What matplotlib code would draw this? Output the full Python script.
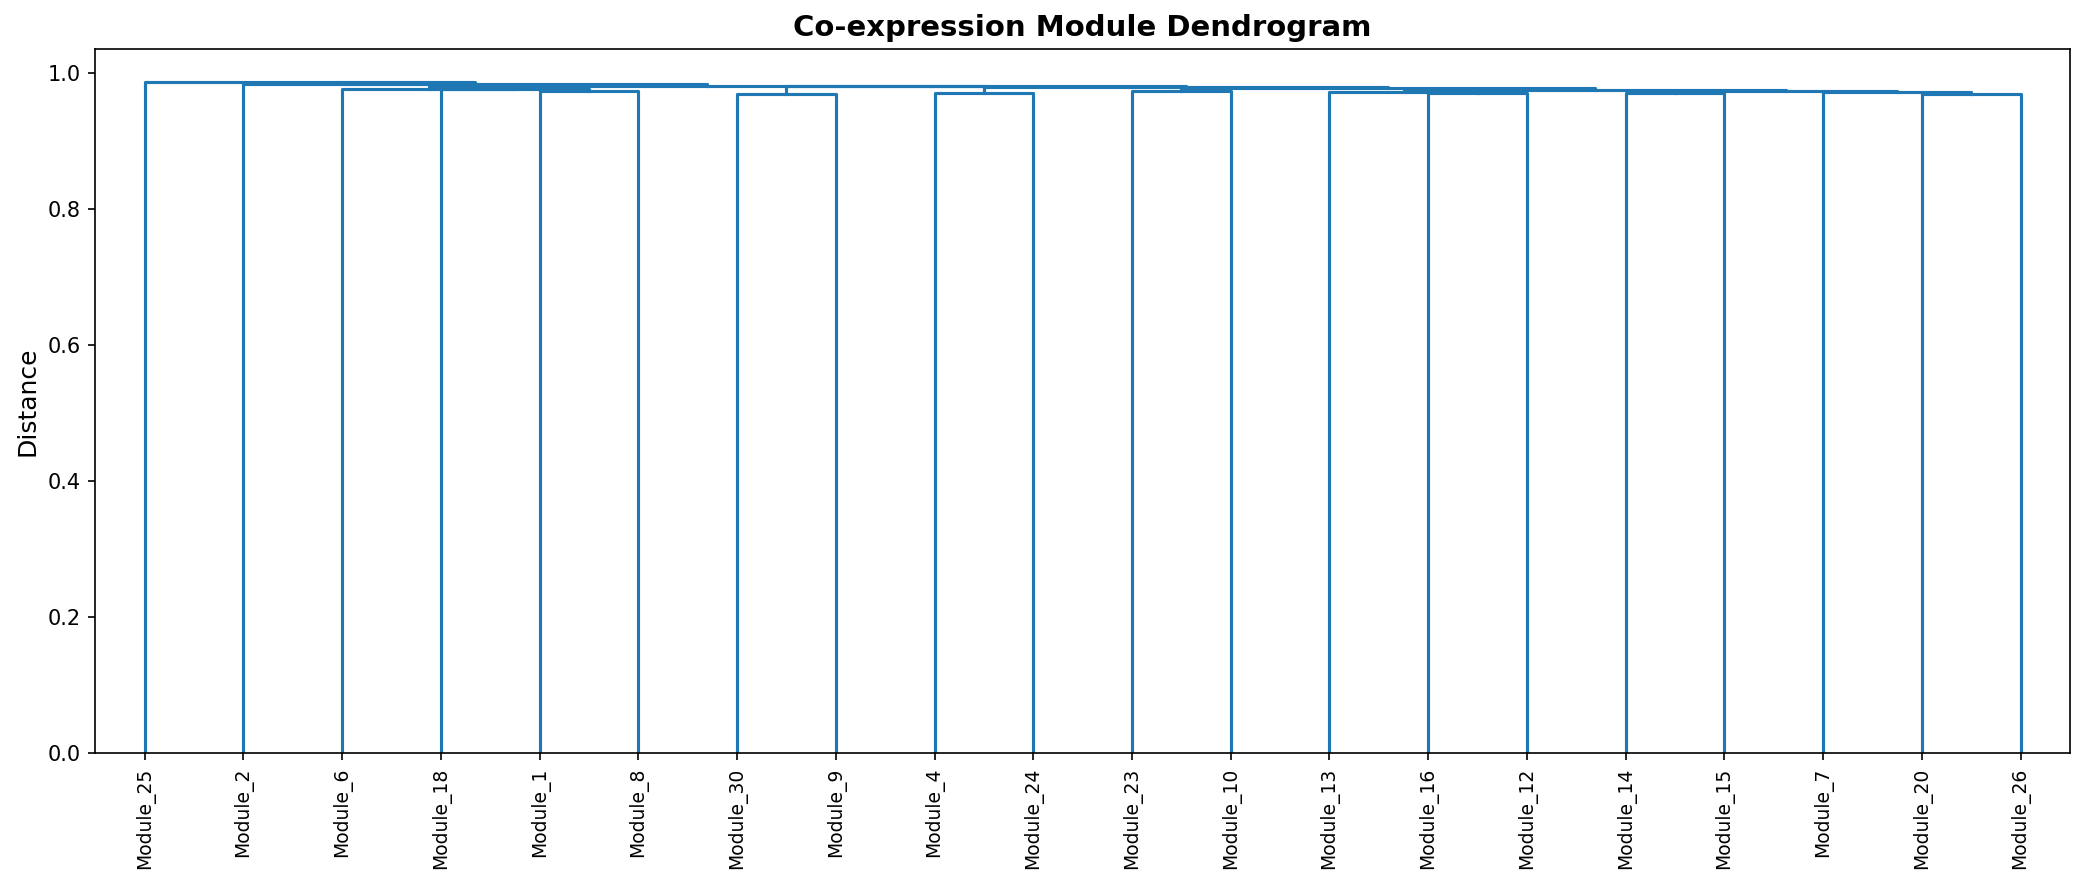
import numpy as np
import matplotlib.pyplot as plt

# leaf order as it appears on the x axis
leaf_labels = ["Module_25", "Module_2", "Module_6", "Module_18", "Module_1", "Module_8",
               "Module_30", "Module_9", "Module_4", "Module_24", "Module_23", "Module_10",
               "Module_13", "Module_16", "Module_12", "Module_14", "Module_15", "Module_7",
               "Module_20", "Module_26"]

# merges: left child, right child, distance (ints refer to earlier merges)
merge_left = ["Module_30", "Module_20", "Module_16", "Module_4", "Module_14", "Module_13",
              "Module_7", "Module_1", "Module_23", 4, 5, "Module_18", "Module_6", 8, 3,
              0, 12, "Module_2", "Module_25"]
merge_right = ["Module_9", "Module_26", "Module_12", "Module_24", "Module_15", 2,
               1, "Module_8", "Module_10", 6, 9, 7, 11, 10, 13,
               14, 15, 16, 17]
merge_height = [0.969, 0.9685, 0.9695, 0.9705, 0.970, 0.971,
                0.9715, 0.9737, 0.9735, 0.9735, 0.975, 0.9755, 0.9765, 0.977, 0.9785,
                0.9805, 0.981, 0.9837, 0.9855]

color = "#1f77b4"

fig, ax = plt.subplots(figsize=(2082 / 150, 884 / 150), dpi=150)
fig.subplots_adjust(left=0.0458, right=0.9942, top=0.9446, bottom=0.1482)

leaf_x = {name: 5 + 10 * i for i, name in enumerate(leaf_labels)}
node_x = []


def child_pos(c):
    if isinstance(c, str):
        return leaf_x[c], 0.0
    return node_x[c], merge_height[c]


for l, r, h in zip(merge_left, merge_right, merge_height):
    xl, yl = child_pos(l)
    xr, yr = child_pos(r)
    ax.plot([xl, xl, xr, xr], [yl, h, h, yr], color=color, lw=1.5)
    node_x.append((xl + xr) / 2)

n = len(leaf_labels)
ax.set_xlim(0, 10 * n)
ax.set_ylim(0, max(merge_height) * 1.05)
ax.set_xticks([leaf_x[k] for k in leaf_labels])
ax.set_xticklabels(leaf_labels, rotation=90, fontsize=9)
ax.set_ylabel("Distance", fontsize=12)
ax.set_title("Co-expression Module Dendrogram", fontsize=14, fontweight="bold")

fig.savefig("out.png", dpi=150)
